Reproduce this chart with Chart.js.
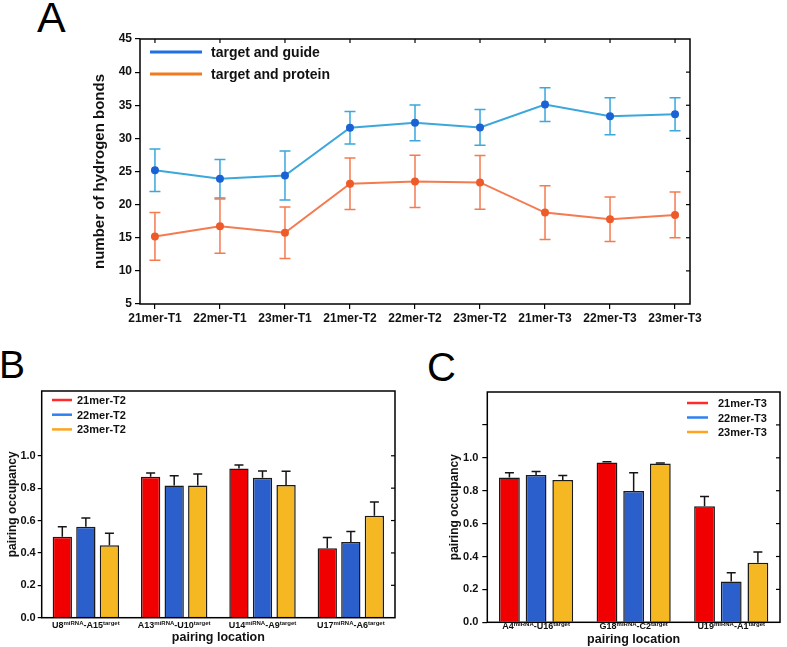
<!DOCTYPE html>
<html><head><meta charset="utf-8">
<script src="https://cdn.jsdelivr.net/npm/chart.js@4.4.1/dist/chart.umd.min.js"></script>
<style>
html,body{margin:0;padding:0;background:#fff}
body{width:787px;height:647px;overflow:hidden;position:relative;font-family:"Liberation Sans",Arial,sans-serif}
.letter{position:absolute;line-height:1;color:#000;font-family:"Liberation Sans",Arial,sans-serif}
.box{position:absolute}
</style></head><body>
<div class="letter" style="left:37px;top:-4px;font-size:43px">A</div>
<div class="letter" style="left:-1px;top:345px;font-size:39px">B</div>
<div class="letter" style="left:427px;top:347px;font-size:40px">C</div>
<div class="box" style="left:0;top:0;width:787px;height:335px"><canvas id="cA"></canvas></div>
<div class="box" style="left:0;top:340px;width:400px;height:307px"><canvas id="cB"></canvas></div>
<div class="box" style="left:400px;top:340px;width:387px;height:307px"><canvas id="cC"></canvas></div>
<script>
// ---------- Panel A data ----------
const categoriesA = ['21mer-T1','22mer-T1','23mer-T1','21mer-T2','22mer-T2','23mer-T2','21mer-T3','22mer-T3','23mer-T3'];
const guideMean   = [25.2, 23.9, 24.4, 31.6, 32.35, 31.65, 35.1, 33.35, 33.65];
const guideErr    = [3.2, 2.9, 3.7, 2.45, 2.7, 2.7, 2.55, 2.8, 2.5];
const proteinMean = [15.2, 16.75, 15.75, 23.15, 23.5, 23.35, 18.8, 17.8, 18.45];
const proteinErr  = [3.6, 4.1, 3.9, 3.9, 3.95, 4.05, 4.05, 3.35, 3.45];
const seriesA = ['target and guide', 'target and protein'];

// ---------- Panel B data ----------
const locationsB = ['U8{miRNA}-A15{target}','A13{miRNA}-U10{target}','U14{miRNA}-A9{target}','U17{miRNA}-A6{target}'];
const seriesB = ['21mer-T2','22mer-T2','23mer-T2'];
const b21 = [0.50, 0.871, 0.922, 0.429];
const b21Err = [0.062, 0.023, 0.021, 0.067];
const b22 = [0.561, 0.816, 0.865, 0.467];
const b22Err = [0.055, 0.060, 0.041, 0.066];
const b23 = [0.447, 0.816, 0.820, 0.629];
const b23Err = [0.075, 0.072, 0.084, 0.085];

// ---------- Panel C data ----------
const locationsC = ['A4{miRNA}-U16{target}','G18{miRNA}-C2{target}','U19{miRNA}-A1{target}'];
const seriesC = ['21mer-T3','22mer-T3','23mer-T3'];
const c21 = [0.881, 0.972, 0.705];
const c21Err = [0.028, 0.004, 0.059];
const c22 = [0.895, 0.798, 0.248];
const c22Err = [0.022, 0.111, 0.053];
const c23 = [0.865, 0.966, 0.362];
const c23Err = [0.028, 0.002, 0.066];

const FONT = '"Liberation Sans", Arial, sans-serif';
Chart.defaults.font.family = FONT;
Chart.defaults.color = '#000';
Chart.defaults.animation = false;

function frameTicks(rightMax) {
  return {
    id: 'frameTicks',
    afterDraw(chart) {
      const {ctx, chartArea: a, scales} = chart;
      ctx.save();
      ctx.strokeStyle = '#000'; ctx.lineWidth = 1.5;
      ctx.strokeRect(a.left, a.top, a.right - a.left, a.bottom - a.top);
      ctx.lineWidth = 1.2;
      const ys = scales.y;
      ys.ticks.forEach(t => {
        if (t.value <= ys.min || t.value >= ys.max || t.value > rightMax + 1e-9) return;
        const y = ys.getPixelForValue(t.value);
        ctx.beginPath(); ctx.moveTo(a.right, y); ctx.lineTo(a.right - 4, y); ctx.stroke();
      });
      if (chart.options.topTicks) {
        scales.x.ticks.forEach(t => {
          const x = scales.x.getPixelForValue(t.value);
          ctx.beginPath(); ctx.moveTo(x, a.top); ctx.lineTo(x, a.top + 4); ctx.stroke();
        });
      }
      ctx.restore();
    }
  };
}

function legendPlugin(cfg) {
  return {
    id: 'customLegend',
    afterDraw(chart) {
      const ctx = chart.ctx;
      ctx.save();
      chart.data.datasets.forEach((ds, i) => {
        const y = cfg.y0 + i * cfg.dy;
        ctx.strokeStyle = ds.legendColor; ctx.lineWidth = cfg.lw;
        ctx.beginPath(); ctx.moveTo(cfg.x0, y); ctx.lineTo(cfg.x1, y); ctx.stroke();
        ctx.fillStyle = '#111'; ctx.font = cfg.font;
        ctx.textAlign = 'left'; ctx.textBaseline = 'middle';
        ctx.fillText(ds.label, cfg.tx, y + 1);
      });
      ctx.restore();
    }
  };
}

// ---------- Chart A ----------
const errorLinePlugin = {
  id: 'errLines',
  beforeDatasetsDraw(chart) {
    const {ctx, scales} = chart;
    ctx.save();
    chart.data.datasets.forEach((ds, di) => {
      const meta = chart.getDatasetMeta(di);
      ctx.strokeStyle = ds.errColor; ctx.lineWidth = 1.5;
      meta.data.forEach((pt, j) => {
        const m = ds.data[j].y, e = ds.errors[j];
        const yt = scales.y.getPixelForValue(m + e), yb = scales.y.getPixelForValue(m - e);
        ctx.beginPath();
        ctx.moveTo(pt.x, yt); ctx.lineTo(pt.x, yb);
        ctx.moveTo(pt.x - 5.5, yt); ctx.lineTo(pt.x + 5.5, yt);
        ctx.moveTo(pt.x - 5.5, yb); ctx.lineTo(pt.x + 5.5, yb);
        ctx.stroke();
      });
    });
    ctx.restore();
  }
};

new Chart(document.getElementById('cA'), {
  type: 'line',
  data: {
    datasets: [
      { label: seriesA[0], data: guideMean.map((y, i) => ({x: i, y})), errors: guideErr,
        borderColor: '#3ba7dc', borderWidth: 2, pointRadius: 3, pointBackgroundColor: '#1b62d4',
        pointBorderColor: '#1b62d4', errColor: '#3ba7dc', legendColor: '#1f70e6', tension: 0 },
      { label: seriesA[1], data: proteinMean.map((y, i) => ({x: i, y})), errors: proteinErr,
        borderColor: '#f47b50', borderWidth: 2, pointRadius: 3, pointBackgroundColor: '#ee5a2a',
        pointBorderColor: '#ee5a2a', errColor: '#f47b50', legendColor: '#f47a1e', tension: 0 }
    ]
  },
  options: {
    responsive: true, maintainAspectRatio: false, topTicks: true,
    layout: { padding: { left: 88, right: 97, top: 39, bottom: 0 } },
    plugins: { legend: { display: false }, tooltip: { enabled: false } },
    scales: {
      x: { type: 'linear', min: -0.23, max: 8.23,
        afterFit: s => { s.height = 31; },
        ticks: { stepSize: 1, includeBounds: false, autoSkip: false, maxRotation: 0, padding: 2,
          font: { size: 12, weight: 'bold' }, color: '#111',
          callback: v => Number.isInteger(v) ? categoriesA[v] : '' },
        grid: { display: true, drawOnChartArea: false, drawTicks: true, tickLength: 5, color: '#000', lineWidth: 1.2 },
        border: { display: false } },
      y: { min: 5, max: 45,
        afterFit: s => { s.width = 52; },
        ticks: { stepSize: 5, padding: 3, font: { size: 12, weight: 'bold' }, color: '#111' },
        grid: { display: true, drawOnChartArea: false, drawTicks: true, tickLength: 5, color: '#000', lineWidth: 1.2 },
        border: { display: false },
        title: { display: true, text: 'number of hydrogen bonds', font: { size: 15, weight: 'bold' }, color: '#111', padding: { top: 3, bottom: 0 } } }
    }
  },
  plugins: [errorLinePlugin, frameTicks(100), legendPlugin({ x0: 150, x1: 202, tx: 211, y0: 52, dy: 22, lw: 3, font: 'bold 14px ' + FONT })]
});

// ---------- Bar charts ----------
const barErrPlugin = {
  id: 'barErr',
  afterDatasetsDraw(chart) {
    const {ctx, scales} = chart;
    ctx.save();
    ctx.strokeStyle = '#151515'; ctx.lineWidth = 1.5;
    chart.data.datasets.forEach((ds, di) => {
      const meta = chart.getDatasetMeta(di);
      meta.data.forEach((bar, j) => {
        const e = ds.errors[j];
        if (!e) return;
        const yt = scales.y.getPixelForValue(ds.data[j] + e);
        ctx.beginPath();
        ctx.moveTo(bar.x, bar.y); ctx.lineTo(bar.x, yt);
        ctx.moveTo(bar.x - 4.5, yt); ctx.lineTo(bar.x + 4.5, yt);
        ctx.stroke();
      });
    });
    ctx.restore();
  }
};

function richLabels(cy) {
  return {
    id: 'richLabels',
    afterDraw(chart) {
      const {ctx, scales} = chart;
      const base = 'bold 9px ' + FONT, sup = 'bold 6px ' + FONT;
      ctx.save();
      ctx.fillStyle = '#111'; ctx.textAlign = 'left'; ctx.textBaseline = 'alphabetic';
      chart.data.labels.forEach((lab, i) => {
        const parts = lab.split(/(\{[^}]*\})/).filter(s => s).map(s => s[0] === '{' ? {t: s.slice(1, -1), s: true} : {t: s, s: false});
        let w = 0;
        parts.forEach(p => { ctx.font = p.s ? sup : base; p.w = ctx.measureText(p.t).width; w += p.w; });
        let x = scales.x.getPixelForValue(i) - w / 2;
        parts.forEach(p => { ctx.font = p.s ? sup : base; ctx.fillText(p.t, x, p.s ? cy - 3 : cy); x += p.w; });
      });
      ctx.restore();
    }
  };
}

function barChart(id, labels, names, vals, errs, colors, legColors, geo) {
  return new Chart(document.getElementById(id), {
    type: 'bar',
    data: {
      labels: labels,
      datasets: names.map((n, i) => ({
        label: n, data: vals[i], errors: errs[i], backgroundColor: colors[i],
        borderColor: '#1a1a1a', borderWidth: 1.5, legendColor: legColors[i],
        categoryPercentage: geo.cat, barPercentage: geo.bar
      }))
    },
    options: {
      responsive: true, maintainAspectRatio: false,
      layout: { padding: { left: geo.padL, right: geo.padR, top: geo.padT, bottom: 0 } },
      plugins: { legend: { display: false }, tooltip: { enabled: false } },
      scales: {
        x: { afterFit: s => { s.height = geo.xH; },
          ticks: { display: false },
          grid: { display: false }, border: { display: false },
          title: { display: true, text: 'pairing location', font: { size: 12.5, weight: 'bold' }, color: '#111', padding: { top: 0, bottom: geo.xTitlePad } } },
        y: { min: 0, max: 1.4,
          afterFit: s => { s.width = geo.yW; },
          ticks: { stepSize: 0.2, padding: geo.tickPad, font: { size: 11, weight: 'bold' }, color: '#111',
            callback: v => v <= 1.0001 ? v.toFixed(1) : '' },
          grid: { display: true, drawOnChartArea: false, drawTicks: true, tickLength: geo.tickLen, lineWidth: 1.2,
            tickColor: c => (c.tick && c.tick.value > geo.leftMax + 1e-9) ? 'rgba(0,0,0,0)' : '#000', color: '#000' },
          border: { display: false },
          title: { display: true, text: 'pairing occupancy', font: { size: 12, weight: 'bold' }, color: '#111', padding: { top: geo.yTitlePad, bottom: 0 } } }
      }
    },
    plugins: [barErrPlugin, frameTicks(geo.rightMax), richLabels(geo.labY), legendPlugin(geo.legend)]
  });
}

const barColors = ['#f00000', '#2b5fcb', '#f5b722'];
const legColors = ['#ff2a2a', '#2f80f0', '#ffa41e'];

barChart('cB', locationsB, seriesB, [b21, b22, b23], [b21Err, b22Err, b23Err], barColors, legColors, {
  cat: 0.8, bar: 0.82, padL: 2, padR: 5, padT: 51, xH: 29.3, yW: 39.7, tickPad: 2, tickLen: 4,
  xTitlePad: 2, yTitlePad: 3, leftMax: 1.0, rightMax: 1.0, labY: 287.5,
  legend: { x0: 52, x1: 72, tx: 77, y0: 60, dy: 14.7, lw: 2.5, font: 'bold 11px ' + FONT }
});

barChart('cC', locationsC, seriesC, [c21, c22, c23], [c21Err, c22Err, c23Err], barColors, legColors, {
  cat: 0.82, bar: 0.78, padL: 44, padR: 7, padT: 52, xH: 24.7, yW: 43.3, tickPad: 4, tickLen: 5,
  xTitlePad: 0, yTitlePad: 3.5, leftMax: 1.2, rightMax: 1.2, labY: 289,
  legend: { x0: 287, x1: 308, tx: 318, y0: 63, dy: 14.5, lw: 2.5, font: 'bold 11px ' + FONT }
});
</script>
</body></html>
